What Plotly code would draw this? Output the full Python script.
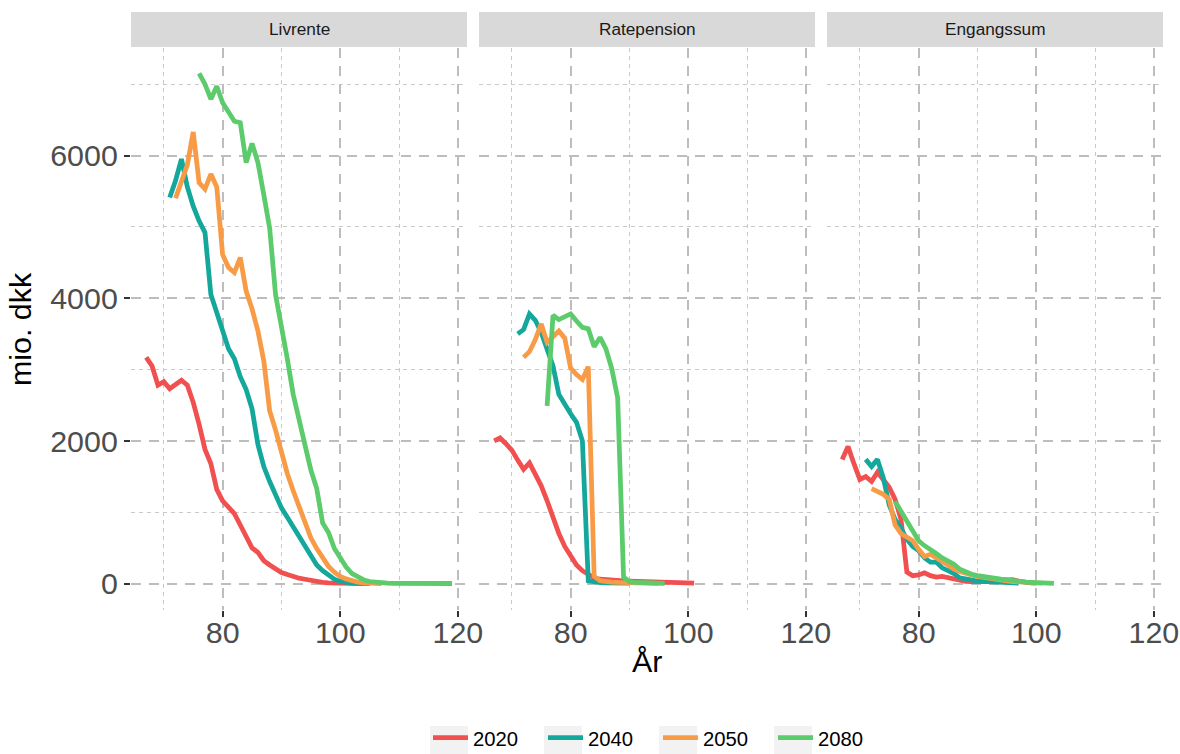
import plotly.graph_objects as go

# reference canvas (pixels) and render size compensating the viewer's fit scaling
REF_W, REF_H = 1180, 754
S = 1180 / 1164
W, H = round(REF_W * S), 758

FACETS = ["Livrente", "Ratepension", "Engangssum"]
YEARS = ["2020", "2040", "2050", "2080"]
COLORS = ["#F0504F", "#14A89C", "#F89B47", "#5CCB6C"]

X_TICKS = [80, 100, 120]
X_MINOR = [70, 90, 110]
Y_TICKS = [0, 2000, 4000, 6000]
Y_MINOR = [1000, 3000, 5000, 7000]

# ---- Livrente ----
LIV_2020_START = 67
LIV_2020 = [3170, 3050, 2780, 2830, 2730, 2800, 2850, 2780, 2540, 2230, 1880, 1680,
            1320, 1160, 1070, 980, 820, 640, 500, 435, 320, 260, 200, 154, 125, 95,
            75, 60, 40, 25, 15, 10, 6, 4, 3, 2, 1, 0]
LIV_2040_START = 71
LIV_2040 = [5410, 5650, 5950, 5560, 5290, 5080, 4920, 4050, 3800, 3560, 3290, 3150,
            2900, 2720, 2450, 1950, 1640, 1430, 1230, 1060, 930, 800, 650, 530, 390,
            260, 180, 110, 60, 30, 12, 5, 2, 1, 0]
LIV_2050_START = 72
LIV_2050 = [5400, 5630, 5870, 6330, 5620, 5530, 5740, 5560, 4610, 4430, 4360, 4570,
            4100, 3850, 3540, 3120, 2420, 2150, 1840, 1540, 1300, 1080, 860, 640, 490,
            350, 240, 160, 100, 65, 35, 18, 8, 3, 1, 0]
LIV_2080_START = 76
LIV_2080 = [7150, 7000, 6790, 6970, 6740, 6620, 6480, 6460, 5900, 6170, 5900, 5450,
            4980, 4050, 3620, 3150, 2650, 2280, 1950, 1590, 1330, 850, 715, 490, 360,
            230, 140, 85, 50, 28, 15, 8, 4, 2, 1, 1, 0, 0, 0, 0, 0, 0, 0, 0]

# ---- Ratepension ----
RATE_2020_START = 67
RATE_2020 = [2000, 2040, 1960, 1870, 1730, 1600, 1690, 1540, 1370, 1160, 920, 700,
             520, 380, 260, 180, 120, 80, 60, 50, 45, 40, 36, 33, 30, 25, 20, 15, 14,
             12, 10, 8, 6, 5, 4]
RATE_2040_START = 71
RATE_2040 = [3500, 3560, 3780, 3690, 3520, 3300, 3050, 2650, 2500, 2380, 2260, 2000,
             40, 20, 12, 10, 8, 6, 5, 4]
RATE_2050_START = 72
RATE_2050 = [3170, 3250, 3420, 3640, 3380, 3470, 3540, 3440, 3020, 2930, 2860, 3040,
             100, 40, 25, 20, 15, 12, 10, 8, 6, 5, 4, 3]
RATE_2080_START = 76
RATE_2080 = [2490, 3760, 3700, 3740, 3780, 3680, 3590, 3570, 3320, 3450, 3290, 3010,
             2600, 90, 25, 15, 10, 8, 6, 4, 3]

# ---- Engangssum ----
ENG_2020_START = 67
ENG_2020 = [1740, 1920, 1680, 1460, 1500, 1430, 1560, 1460, 1350, 1180, 900, 160,
            110, 120, 150, 110, 90, 100, 80, 55, 45, 30, 25, 20, 25, 30, 35, 30, 40,
            55, 35, 15, 10, 5]
ENG_2040_START = 71
ENG_2040 = [1740, 1640, 1740, 1480, 1100, 900, 780, 620, 520, 460, 360, 300, 300,
            220, 180, 140, 80, 60, 45, 35, 30, 25, 20, 15, 10, 8, 5]
ENG_2050_START = 72
ENG_2050 = [1330, 1290, 1250, 1180, 820, 700, 640, 600, 480, 380, 410, 350, 310, 260,
            200, 170, 140, 120, 100, 85, 70, 55, 45, 36, 28, 20, 15, 12, 8, 5]
ENG_2080_START = 76
ENG_2080 = [1150, 1020, 860, 730, 600, 530, 480, 420, 360, 320, 270, 200, 160, 130,
            110, 95, 80, 70, 62, 55, 40, 30, 20, 15, 10, 6, 3, 1]

PANELS = {
    "Livrente": [(LIV_2020_START, LIV_2020), (LIV_2040_START, LIV_2040),
                 (LIV_2050_START, LIV_2050), (LIV_2080_START, LIV_2080)],
    "Ratepension": [(RATE_2020_START, RATE_2020), (RATE_2040_START, RATE_2040),
                    (RATE_2050_START, RATE_2050), (RATE_2080_START, RATE_2080)],
    "Engangssum": [(ENG_2020_START, ENG_2020), (ENG_2040_START, ENG_2040),
                   (ENG_2050_START, ENG_2050), (ENG_2080_START, ENG_2080)],
}

FONT = "Liberation Sans, Arial, sans-serif"
GRID_MAJOR = "#BDBDBD"
GRID_MINOR = "#C9C9C9"

# layout geometry in reference pixels
PANEL_X = [(131, 467), (479, 815), (827, 1163)]
PANEL_TOP, PANEL_BOTTOM = 48, 611
STRIP_TOP, STRIP_BOTTOM = 12, 47
LEGEND_KEYS_X = [430, 544, 659, 774]
KEY_W = 38
KEY_TOP, KEY_BOTTOM = 727, 760


def px_x(p):
    return p / REF_W


def px_y(p):
    return (REF_H - p) / REF_H


def sz(v):
    return v * S


fig = go.Figure()

for i, facet in enumerate(FACETS):
    xa = "x" if i == 0 else f"x{i+1}"
    ya = "y" if i == 0 else f"y{i+1}"
    for j, (start, vals) in enumerate(PANELS[facet]):
        ages = list(range(start, start + len(vals)))
        fig.add_trace(go.Scatter(
            x=ages, y=vals, mode="lines", name=YEARS[j],
            line=dict(color=COLORS[j], width=sz(4.7)),
            xaxis=xa, yaxis=ya, legendgroup=YEARS[j], showlegend=(i == 0),
        ))

y_dom = [px_y(PANEL_BOTTOM), px_y(PANEL_TOP)]
layout_axes = {}
for i, (x0, x1) in enumerate(PANEL_X):
    suffix = "" if i == 0 else str(i + 1)
    layout_axes["xaxis" + suffix] = dict(
        domain=[px_x(x0), px_x(x1)], anchor="y" + suffix,
        range=[64.42, 121.55], tickvals=X_TICKS, ticktext=[str(v) for v in X_TICKS],
        showgrid=True, gridcolor=GRID_MAJOR, gridwidth=sz(2), griddash="10px,8px",
        zeroline=False, showline=False,
        ticks="outside", ticklen=sz(6), tickwidth=sz(2), tickcolor="#333333",
        ticklabelstandoff=-11,
        tickfont=dict(family=FONT, size=sz(30), color="#4D4D4D"),
        minor=dict(tickvals=X_MINOR, showgrid=True, gridcolor=GRID_MINOR,
                   gridwidth=sz(1), griddash="4px,4px", ticks=""),
        fixedrange=True,
    )
    layout_axes["yaxis" + suffix] = dict(
        domain=y_dom, anchor="x" + suffix,
        range=[-374, 7508], tickvals=Y_TICKS, ticktext=[str(v) for v in Y_TICKS],
        showticklabels=(i == 0),
        showgrid=True, gridcolor=GRID_MAJOR, gridwidth=sz(2), griddash="10px,8px",
        zeroline=False, showline=False,
        ticks="outside" if i == 0 else "", ticklen=sz(6), tickwidth=sz(2), tickcolor="#333333",
        tickfont=dict(family=FONT, size=sz(30), color="#4D4D4D"),
        minor=dict(tickvals=Y_MINOR, showgrid=True, gridcolor=GRID_MINOR,
                   gridwidth=sz(1), griddash="4px,4px", ticks=""),
        fixedrange=True,
    )

shapes = []
annotations = []
for i, (x0, x1) in enumerate(PANEL_X):
    shapes.append(dict(type="rect", xref="paper", yref="paper",
                       x0=px_x(x0), x1=px_x(x1), y0=px_y(STRIP_BOTTOM), y1=px_y(STRIP_TOP),
                       fillcolor="#D9D9D9", line=dict(width=0), layer="below"))
    annotations.append(dict(text=FACETS[i], xref="paper", yref="paper",
                            x=px_x((x0 + x1) / 2), y=px_y((STRIP_TOP + STRIP_BOTTOM) / 2),
                            xanchor="center", yanchor="middle", showarrow=False,
                            font=dict(family=FONT, size=sz(17), color="#1A1A1A")))

# light grey legend key backgrounds (ggplot style)
for kx in LEGEND_KEYS_X:
    shapes.append(dict(type="rect", xref="paper", yref="paper",
                       x0=px_x(kx), x1=px_x(kx + KEY_W), y0=px_y(KEY_BOTTOM), y1=px_y(KEY_TOP),
                       fillcolor="#F2F2F2", line=dict(width=0), layer="below"))

annotations.append(dict(text="År", xref="paper", yref="paper",
                        x=px_x((PANEL_X[0][0] + PANEL_X[2][1]) / 2), y=px_y(662),
                        xanchor="center", yanchor="middle", showarrow=False,
                        font=dict(family=FONT, size=sz(30), color="#000000")))
annotations.append(dict(text="mio. dkk", xref="paper", yref="paper",
                        x=px_x(20), y=px_y((PANEL_TOP + PANEL_BOTTOM) / 2),
                        xanchor="center", yanchor="middle", showarrow=False, textangle=-90,
                        font=dict(family=FONT, size=sz(30), color="#000000")))

fig.update_layout(
    width=W, height=H,
    margin=dict(l=0, r=0, t=0, b=0),
    paper_bgcolor="white", plot_bgcolor="white",
    font=dict(family=FONT),
    shapes=shapes, annotations=annotations,
    showlegend=True,
    legend=dict(orientation="h", x=px_x(428), xanchor="left",
                y=px_y(739), yanchor="middle",
                font=dict(family=FONT, size=sz(20), color="#000000"),
                itemwidth=35, entrywidth=65, entrywidthmode="pixels",
                bgcolor="rgba(0,0,0,0)"),
    **layout_axes,
)

fig.write_html("out.html")
